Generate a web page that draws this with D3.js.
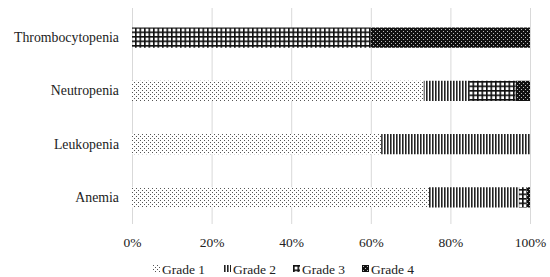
<!DOCTYPE html>
<meta charset="utf-8">
<script src="https://d3js.org/d3.v7.min.js"></script>
<style>
  body { margin: 0; background: #fff; }
  text { font-family: "Liberation Serif", "Times New Roman", serif; fill: #222; }
</style>
<div id="chart"></div>
<script>
// categories top to bottom
var categories = ["Thrombocytopenia", "Neutropenia", "Leukopenia", "Anemia"];
var grades = ["Grade 1", "Grade 2", "Grade 3", "Grade 4"];
// percentage share of each grade, same order as categories
var grade1 = [0, 73.3, 62.6, 74.6];
var grade2 = [0, 11.4, 37.4, 22.6];
var grade3 = [60, 11.7, 0, 1.9];
var grade4 = [40, 3.6, 0, 0.9];
var tickLabels = ["0%", "20%", "40%", "60%", "80%", "100%"];

var W = 550, H = 277;
var margin = {top: 8, right: 20, bottom: 53, left: 132};

var svg = d3.select("#chart").append("svg")
  .attr("width", W).attr("height", H);

// fill patterns for the grades
var defs = svg.append("defs");
var p1 = defs.append("pattern").attr("id", "g1").attr("patternUnits", "userSpaceOnUse")
  .attr("width", 4).attr("height", 4);
p1.append("rect").attr("width", 4).attr("height", 4).attr("fill", "#fff");
p1.append("rect").attr("x", 0).attr("y", 0).attr("width", 1).attr("height", 1).attr("fill", "#555");
p1.append("rect").attr("x", 2).attr("y", 2).attr("width", 1).attr("height", 1).attr("fill", "#555");

var p2 = defs.append("pattern").attr("id", "g2").attr("patternUnits", "userSpaceOnUse")
  .attr("width", 3).attr("height", 3);
p2.append("rect").attr("width", 3).attr("height", 3).attr("fill", "#fff");
p2.append("rect").attr("width", 1.6).attr("height", 3).attr("fill", "#222");

var p3 = defs.append("pattern").attr("id", "g3").attr("patternUnits", "userSpaceOnUse")
  .attr("width", 4.5).attr("height", 4.5);
p3.append("rect").attr("width", 4.5).attr("height", 4.5).attr("fill", "#fff");
p3.append("rect").attr("width", 1.6).attr("height", 4.5).attr("fill", "#111");
p3.append("rect").attr("width", 4.5).attr("height", 1.6).attr("fill", "#111");

var p4 = defs.append("pattern").attr("id", "g4").attr("patternUnits", "userSpaceOnUse")
  .attr("width", 4).attr("height", 4);
p4.append("rect").attr("width", 4).attr("height", 4).attr("fill", "#111");
p4.append("rect").attr("x", 1).attr("y", 1).attr("width", 1).attr("height", 1).attr("fill", "#bbb");
p4.append("rect").attr("x", 3).attr("y", 3).attr("width", 1).attr("height", 1).attr("fill", "#bbb");

var fills = ["url(#g1)", "url(#g2)", "url(#g3)", "url(#g4)"];

var x = d3.scaleLinear().domain([0, 100]).range([margin.left, 530]);
var y = d3.scaleBand().domain(categories).range([margin.top + 3, 224]).paddingInner(0.62).paddingOuter(0.31);

// gridlines
svg.append("g")
  .selectAll("line").data(d3.range(0, 101, 20)).join("line")
  .attr("x1", d => x(d) + 0.5).attr("x2", d => x(d) + 0.5)
  .attr("y1", margin.top).attr("y2", 224)
  .attr("stroke", "#d9d9d9").attr("stroke-width", 1);

// x axis tick labels
var xAxis = d3.axisBottom(x).tickValues(d3.range(0, 101, 20))
  .tickFormat((d, i) => tickLabels[i]).tickSize(0).tickPadding(11);
var gx = svg.append("g").attr("transform", "translate(0,226)").call(xAxis);
gx.select(".domain").remove();
gx.selectAll("text").style("font-size", "13.5px").style("font-family", "Liberation Serif").attr("fill", "#222");

// y axis labels
var yAxis = d3.axisLeft(y).tickSize(0).tickPadding(13);
var gy = svg.append("g").attr("transform", "translate(" + margin.left + ",0)").call(yAxis);
gy.select(".domain").remove();
gy.selectAll("text").style("font-size", "13.8px").style("font-family", "Liberation Serif").attr("fill", "#222");

// stacked data
var series = [grade1, grade2, grade3, grade4];
var rows = categories.map((c, i) => {
  var o = {cat: c};
  grades.forEach((g, j) => o[g] = series[j][i]);
  return o;
});
var stack = d3.stack().keys(grades)(rows);

svg.append("g").selectAll("g").data(stack).join("g")
  .attr("fill", (d, i) => fills[i])
  .selectAll("rect").data(d => d).join("rect")
  .attr("x", d => x(d[0]))
  .attr("width", d => Math.max(0, x(d[1]) - x(d[0])))
  .attr("y", d => y(d.data.cat))
  .attr("height", y.bandwidth());

// legend
var legendX = [153, 224, 293, 362];
var lg = svg.append("g").selectAll("g").data(grades).join("g")
  .attr("transform", (d, i) => "translate(" + legendX[i] + ",265)");
lg.append("rect").attr("width", 7).attr("height", 7)
  .attr("fill", (d, i) => fills[i]);
lg.append("text").attr("x", 9).attr("y", 8.5)
  .style("font-size", "13.5px").text(d => d);
</script>
